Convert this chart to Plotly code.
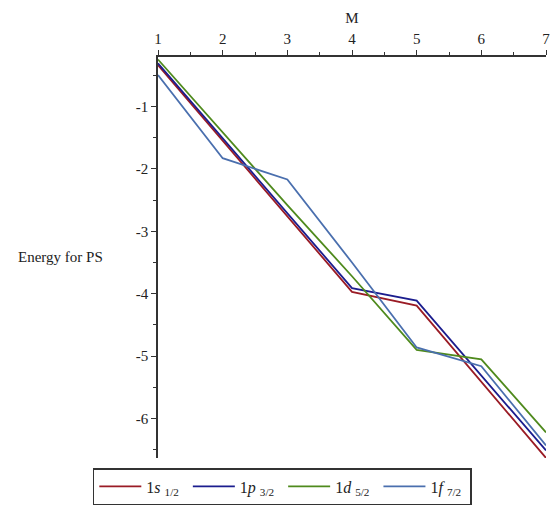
import plotly.graph_objects as go

M = [1, 2, 3, 4, 5, 6, 7]
s_half = [-0.34, -1.55, -2.76, -3.97, -4.19, -5.41, -6.63]
p_3half = [-0.31, -1.51, -2.71, -3.91, -4.11, -5.31, -6.51]
d_5half = [-0.25, -1.41, -2.58, -3.72, -4.90, -5.05, -6.22]
f_7half = [-0.50, -1.83, -2.17, -3.50, -4.86, -5.16, -6.43]

names = ["1<i>s</i> <sub>1/2</sub> ", "1<i>p</i> <sub>3/2</sub> ",
         "1<i>d</i> <sub>5/2</sub> ", "1<i>f</i> <sub>7/2</sub> "]
series = [s_half, p_3half, d_5half, f_7half]
colors = ["#9a1b25", "#1b1d8e", "#4f8a1d", "#4a6fae"]

ytickvals = [-6, -5, -4, -3, -2, -1]
yticktext = ["-6", "-5", "-4", "-3", "-2", "-1"]

fig = go.Figure()
for nm, ys, c in zip(names, series, colors):
    fig.add_trace(go.Scatter(x=M, y=ys, mode="lines", name=nm,
                             line=dict(color=c, width=1.8)))

font = "Liberation Serif, Times New Roman, serif"
# page body has an 8px default margin; compensate so the plot sits where the reference does
fig.update_layout(
    width=551, height=506,
    margin=dict(l=150, r=9, t=42, b=51),
    paper_bgcolor="white", plot_bgcolor="white",
    font=dict(family=font, size=14, color="#222"),
    showlegend=True,
    legend=dict(orientation="h", x=-0.168, xanchor="left", y=-0.025, yanchor="top",
                bordercolor="#333", borderwidth=1.5, bgcolor="white",
                font=dict(family=font, size=16), itemwidth=42, tracegroupgap=0),
    xaxis=dict(range=[1, 7], side="top", showline=True, linecolor="#333", linewidth=1.5,
               ticks="outside", ticklen=5, tickcolor="#333", dtick=1,
               showgrid=False, zeroline=False,
               minor=dict(ticks="outside", ticklen=3, dtick=0.5, tick0=1, tickcolor="#333"),
               title=dict(text="M", standoff=4, font=dict(family=font, size=15)),
               tickfont=dict(family=font, size=15)),
    yaxis=dict(range=[-6.63, -0.21], showline=True, linecolor="#333", linewidth=1.5,
               ticks="outside", ticklen=5, tickcolor="#333",
               tickvals=ytickvals, ticktext=yticktext,
               showgrid=False, zeroline=False,
               minor=dict(ticks="outside", ticklen=3, tickmode="linear", tick0=0, dtick=0.5,
                          tickcolor="#333"),
               tickfont=dict(family=font, size=15)),
    annotations=[dict(text="Energy for PS", xref="paper", yref="paper",
                      x=-0.365, y=0.501, xanchor="left", yanchor="middle",
                      showarrow=False, font=dict(family=font, size=15, color="#222"))],
)

fig.write_html("out.html")
